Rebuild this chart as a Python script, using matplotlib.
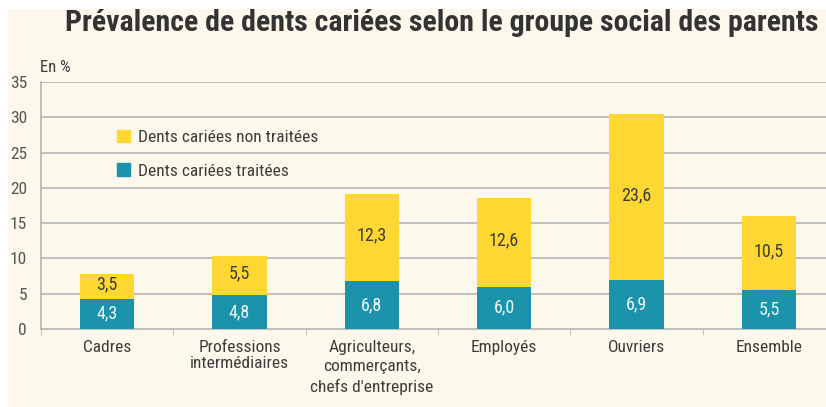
import matplotlib
matplotlib.use("Agg")
import matplotlib.pyplot as plt
from matplotlib.patches import Rectangle, Patch
import numpy as np

plt.rcParams['font.family'] = ['Roboto Condensed', 'DejaVu Sans']

# data
categories = ['Cadres', 'Professions\nintermédiaires', 'Agriculteurs,\ncommerçants,\nchefs d\'entreprise',
              'Employés', 'Ouvriers', 'Ensemble']
traitees = [4.3, 4.8, 6.8, 6.0, 6.9, 5.5]
non_traitees = [3.5, 5.5, 12.3, 12.6, 23.6, 10.5]
yticks = [0, 5, 10, 15, 20, 25, 30, 35]

teal = '#1b93ab'
yellow = '#fed733'
cream = '#fdf8ec'
grid_col = '#b4b4b4'
text_col = '#3c3c3c'

W, H = 826, 407
fig = plt.figure(figsize=(W / 100, H / 100), dpi=100, facecolor='white')
fig.patches.append(Rectangle((8 / W, 0), 1, (H - 9) / H, transform=fig.transFigure,
                             facecolor=cream, edgecolor='none', zorder=-10))

ax = fig.add_axes([41 / W, 78 / H, 794 / W, 247 / H])
ax.set_facecolor('none')

x = np.arange(len(categories))
bw = 0.41
ax.bar(x, traitees, width=bw, color=teal, zorder=3, label='Dents cariées traitées')
ax.bar(x, non_traitees, width=bw, bottom=traitees, color=yellow, zorder=3,
       label='Dents cariées non traitées')

for i in range(len(x)):
    ax.text(x[i], traitees[i] / 2, f'{traitees[i]:.1f}'.replace('.', ','), ha='center', va='center',
            color='#eef7fa', fontsize=13, zorder=4)
    ax.text(x[i], traitees[i] + non_traitees[i] / 2 + 0.3, f'{non_traitees[i]:.1f}'.replace('.', ','),
            ha='center', va='center', color=text_col, fontsize=13, zorder=4)

ax.set_xlim(-0.5, len(categories) - 0.5)
ax.set_ylim(0, 35)
ax.set_yticks(yticks)
ax.set_yticklabels([str(v) for v in yticks], fontsize=12.5, color='#555555')
ax.tick_params(axis='y', length=0, pad=10)
for v in yticks[1:]:
    ax.axhline(v, color=grid_col, linewidth=1.2, zorder=1)

ax.set_xticks(x)
ax.set_xticklabels(categories, fontsize=12.5, color=text_col, linespacing=1.05)
ax.get_xticklabels()[2].set_linespacing(1.35)
ax.tick_params(axis='x', length=0, pad=8)
ax.set_xticks(np.arange(-0.5, len(categories), 1), minor=True)
ax.tick_params(axis='x', which='minor', length=4, color=grid_col, direction='out')

for s in ['top', 'right']:
    ax.spines[s].set_visible(False)
ax.spines['left'].set_color(grid_col)
ax.spines['bottom'].set_color(grid_col)
ax.spines['left'].set_linewidth(1.2)
ax.spines['bottom'].set_linewidth(1.2)

handles = [Patch(color=yellow), Patch(color=teal)]
ax.legend(handles, ['Dents cariées non traitées', 'Dents cariées traitées'],
          loc='upper left', bbox_to_anchor=(101 / W, (H - 114) / H), bbox_transform=fig.transFigure,
          frameon=False, fontsize=12.5, handlelength=0.75, handleheight=0.75, handletextpad=0.5,
          labelspacing=1.05, labelcolor=text_col)

fig.text(40 / W, (H - 67) / H, 'En %', fontsize=12, color=text_col, va='center')
fig.text(442 / W, (H - 23) / H, 'Prévalence de dents cariées selon le groupe social des parents',
         fontsize=21.5, fontweight='bold', color='#333333', ha='center', va='center')

fig.savefig('out.png', dpi=100, facecolor='white')
